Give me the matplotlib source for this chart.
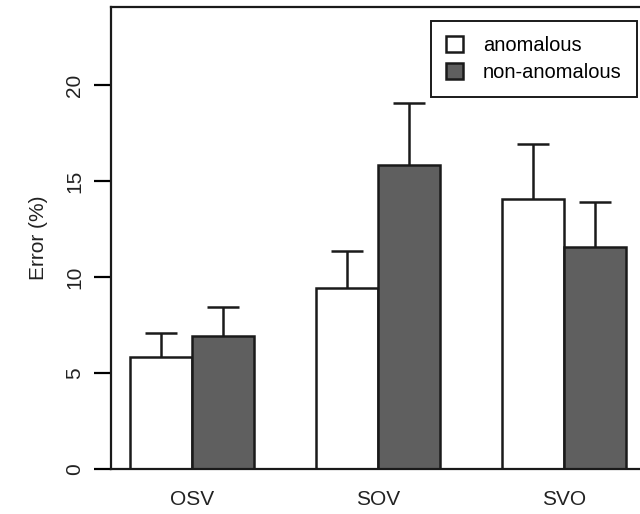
import matplotlib.pyplot as plt
import numpy as np

plt.rcParams['font.family'] = ['Liberation Sans', 'DejaVu Sans']

orders = ['OSV', 'SOV', 'SVO']
anomalous = [5.85, 9.41, 14.05]
anomalous_err = [1.22, 1.96, 2.89]
non_anomalous = [6.94, 15.83, 11.58]
non_anomalous_err = [1.48, 3.23, 2.34]

fig = plt.figure(figsize=(6.4, 5.14), dpi=100)
ax = fig.add_axes([0.1727, 0.0875, 0.8366, 0.8983])

centers = np.arange(len(orders)) * 3 + 2.0
x1 = centers - 0.5
x2 = centers + 0.5

ax.bar(x1, anomalous, width=1, color='white', edgecolor='#1a1a1a', linewidth=1.8,
       label='anomalous', zorder=2)
ax.bar(x2, non_anomalous, width=1, color='#5f5f5f', edgecolor='#1a1a1a', linewidth=1.8,
       label='non-anomalous', zorder=2)

for xs, vals, errs in [(x1, anomalous, anomalous_err), (x2, non_anomalous, non_anomalous_err)]:
    tops = np.array(vals) + np.array(errs)
    ax.vlines(xs, vals, tops, color='#1a1a1a', linewidth=1.8, zorder=1)
    ax.hlines(tops, xs - 0.26, xs + 0.26, color='#1a1a1a', linewidth=1.8, zorder=1)

ax.set_xlim(0.68, 9.32)
ax.set_ylim(0, 24.05)
ax.set_xticks(centers)
ax.set_xticklabels(orders, fontsize=15, color='#222222')
ax.tick_params(axis='x', length=0, pad=15)
ax.set_yticks([0, 5, 10, 15, 20])
ax.set_yticklabels(['0', '5', '10', '15', '20'], rotation=90, va='center', fontsize=15,
                   color='#222222')
ax.tick_params(axis='y', length=12, width=1.6, pad=7)
for s in ax.spines.values():
    s.set_linewidth(1.6)
    s.set_color('#1a1a1a')
ax.set_ylabel('Error (%)', fontsize=15, color='#222222', labelpad=12)

leg = ax.legend(loc='upper right', bbox_to_anchor=(0.983, 0.970), borderaxespad=0,
                fontsize=14.5, fancybox=False, edgecolor='#1a1a1a', framealpha=1,
                handlelength=0.85, handleheight=0.85, labelspacing=0.4,
                handletextpad=1.0, borderpad=0.75)
leg.get_frame().set_linewidth(1.4)

plt.savefig('out.png', dpi=100)
